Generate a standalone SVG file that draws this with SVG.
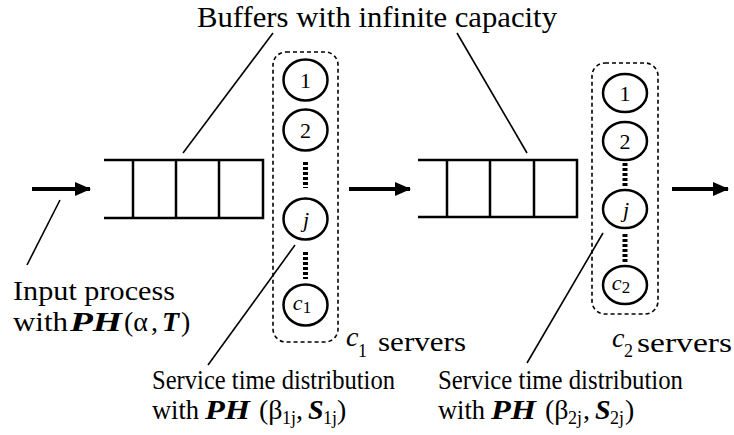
<svg xmlns="http://www.w3.org/2000/svg" width="734" height="435" viewBox="0 0 734 435">
<style>
  text { font-family: "Liberation Serif", "Times New Roman", serif; fill: #000; }
  .lbl { font-size: 28px; }
  .sub { font-size: 18px; }
  .cnum { font-size: 22px; text-anchor: middle; }
  .it { font-style: italic; }
  .bi { font-style: italic; font-weight: bold; }
  .buf { fill: none; stroke: #000; stroke-width: 2.5; }
  .box { fill: none; stroke: #000; stroke-width: 1.6; stroke-dasharray: 4 3; }
  .srv { fill: #fff; stroke: #000; stroke-width: 2.5; }
  .dots { stroke: #000; stroke-width: 5; stroke-dasharray: 3 2; }
  .lead { stroke: #000; stroke-width: 1.6; fill: none; }
  .flow { stroke: #000; stroke-width: 4; fill: none; }
</style>
<defs>
  <marker id="ah" markerUnits="userSpaceOnUse" markerWidth="16" markerHeight="14" refX="15" refY="7" orient="auto">
    <path d="M0,0 L16,7 L0,14 Z" fill="#000"/>
  </marker>
</defs>

<g id="title">
  <text x="197" y="27" font-size="30" textLength="360" lengthAdjust="spacingAndGlyphs">Buffers with infinite capacity</text>
</g>

<g id="buffer1">
  <path class="buf" d="M104,160 H263 V218 H104 M133,160 V218 M176,160 V218 M219,160 V218"/>
</g>

<g id="buffer2">
  <path class="buf" d="M418,160 H577 V217 H418 M447,160 V217 M490,160 V217 M534,160 V217"/>
</g>

<g id="servers1">
  <rect class="box" x="273" y="52" width="65" height="290" rx="13"/>
  <line class="dots" x1="305.5" y1="162" x2="305.5" y2="188"/>
  <line class="dots" x1="305.5" y1="252" x2="305.5" y2="279"/>
  <ellipse class="srv" cx="305.5" cy="80" rx="22" ry="20.5"/>
  <ellipse class="srv" cx="305.5" cy="130" rx="22" ry="20.5"/>
  <ellipse class="srv" cx="305.5" cy="219" rx="22" ry="20.5"/>
  <ellipse class="srv" cx="305.5" cy="305" rx="22" ry="20.5"/>
  <text class="cnum" x="305.5" y="88">1</text>
  <text class="cnum" x="305.5" y="138">2</text>
  <text class="cnum it" x="306" y="227">j</text>
  <text class="cnum it" x="302" y="310" font-size="24">c<tspan font-size="17" font-style="normal" dy="3">1</tspan></text>
</g>

<g id="servers2">
  <rect class="box" x="592" y="63" width="66" height="251" rx="13"/>
  <line class="dots" x1="625" y1="163" x2="625" y2="188"/>
  <line class="dots" x1="625" y1="234" x2="625" y2="262"/>
  <ellipse class="srv" cx="625" cy="93" rx="22" ry="19"/>
  <ellipse class="srv" cx="625" cy="141" rx="22" ry="19"/>
  <ellipse class="srv" cx="625" cy="209" rx="22" ry="19"/>
  <ellipse class="srv" cx="625" cy="285" rx="22" ry="19"/>
  <text class="cnum" x="625" y="101">1</text>
  <text class="cnum" x="625" y="149">2</text>
  <text class="cnum it" x="626" y="217">j</text>
  <text class="cnum it" x="621" y="290" font-size="24">c<tspan font-size="17" font-style="normal" dy="3">2</tspan></text>
</g>

<g id="connectors">
  <line class="flow" x1="32" y1="189" x2="90" y2="189" marker-end="url(#ah)"/>
  <line class="flow" x1="349" y1="189" x2="410" y2="189" marker-end="url(#ah)"/>
  <line class="flow" x1="672" y1="189" x2="728" y2="189" marker-end="url(#ah)"/>
  <line class="lead" x1="273" y1="33" x2="183" y2="153"/>
  <line class="lead" x1="457" y1="33" x2="527" y2="153"/>
  <line class="lead" x1="60" y1="200" x2="27" y2="265"/>
  <line class="lead" x1="295" y1="245" x2="208" y2="365"/>
  <line class="lead" x1="603" y1="233" x2="527" y2="363"/>
</g>

<g id="input-label">
  <text class="lbl" x="13" y="300" textLength="162" lengthAdjust="spacingAndGlyphs">Input process</text>
  <text class="lbl" y="331"><tspan x="13" textLength="55" lengthAdjust="spacingAndGlyphs">with</tspan><tspan class="bi" x="70" textLength="52" lengthAdjust="spacingAndGlyphs">PH</tspan><tspan x="124">(α</tspan><tspan x="151">,</tspan><tspan class="bi" x="162">T</tspan><tspan x="181">)</tspan></text>
</g>

<g id="servers1-label">
  <text class="lbl it" x="346" y="346">c</text>
  <text class="sub" x="358" y="357">1</text>
  <text class="lbl" x="378" y="351" textLength="88" lengthAdjust="spacingAndGlyphs">servers</text>
</g>

<g id="servers2-label">
  <text class="lbl it" x="612" y="347">c</text>
  <text class="sub" x="624" y="357">2</text>
  <text class="lbl" x="637" y="352" textLength="95" lengthAdjust="spacingAndGlyphs">servers</text>
</g>

<g id="service1-label">
  <text class="lbl" x="152" y="389" textLength="243" lengthAdjust="spacingAndGlyphs">Service time distribution</text>
  <text class="lbl" y="419"><tspan x="152" textLength="47" lengthAdjust="spacingAndGlyphs">with</tspan><tspan class="bi" x="205" textLength="45" lengthAdjust="spacingAndGlyphs">PH</tspan><tspan x="259">(β</tspan><tspan class="sub" x="282" y="424">1j</tspan><tspan x="296" y="419">,</tspan><tspan class="bi" x="308">S</tspan><tspan class="sub" x="323" y="424">1j</tspan><tspan x="337" y="419">)</tspan></text>
</g>

<g id="service2-label">
  <text class="lbl" x="438" y="389" textLength="245" lengthAdjust="spacingAndGlyphs">Service time distribution</text>
  <text class="lbl" y="419"><tspan x="438" textLength="47" lengthAdjust="spacingAndGlyphs">with</tspan><tspan class="bi" x="491" textLength="45" lengthAdjust="spacingAndGlyphs">PH</tspan><tspan x="545">(β</tspan><tspan class="sub" x="568" y="424">2j</tspan><tspan x="583" y="419">,</tspan><tspan class="bi" x="595">S</tspan><tspan class="sub" x="610" y="424">2j</tspan><tspan x="625" y="419">)</tspan></text>
</g>
</svg>
